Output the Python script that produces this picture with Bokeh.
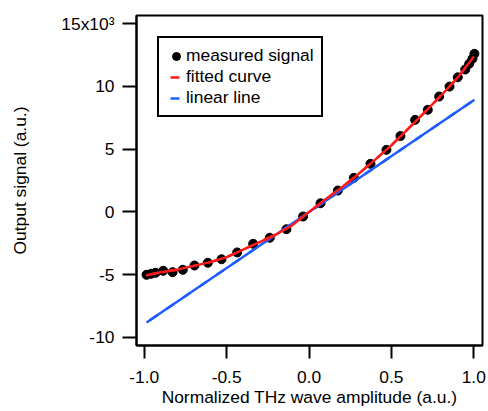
from bokeh.plotting import figure
from bokeh.models import FixedTicker, Legend, LegendItem
from bokeh.embed import file_html
from bokeh.resources import INLINE

# measured signal (x: normalized THz amplitude, y: output signal in units of 1e3)
x_meas = [-0.986, -0.958, -0.931, -0.885, -0.828, -0.766, -0.695, -0.614, -0.531, -0.436,
          -0.339, -0.238, -0.137, -0.036, 0.070, 0.175, 0.272, 0.373, 0.470, 0.555,
          0.644, 0.721, 0.790, 0.853, 0.903, 0.948, 0.972, 0.992, 1.004]
y_meas = [-5.01, -4.93, -4.85, -4.69, -4.80, -4.61, -4.27, -4.05, -3.77, -3.23,
          -2.54, -2.06, -1.38, -0.37, 0.69, 1.70, 2.71, 3.83, 4.94, 6.04,
          7.33, 8.13, 9.19, 9.98, 10.72, 11.34, 11.79, 12.19, 12.59]

# fitted curve
x_fit = [-0.99, -0.9, -0.8, -0.7, -0.6, -0.5, -0.4, -0.3, -0.2, -0.1, 0.0,
         0.1, 0.2, 0.3, 0.4, 0.5, 0.6, 0.7, 0.8, 0.9, 1.0]
y_fit = [-5.06, -4.80, -4.60, -4.30, -4.00, -3.60, -3.00, -2.40, -1.80, -1.05, 0.0,
         1.00, 1.96, 3.02, 4.14, 5.30, 6.60, 7.90, 9.25, 10.65, 12.35]

# linear line
x_lin = [-0.986, 1.004]
y_lin = [-8.81, 8.93]

x_ticks = [-1.0, -0.5, 0.0, 0.5, 1.0]
x_tick_labels = ["-1.0", "-0.5", "0.0", "0.5", "1.0"]
y_ticks = [-10, -5, 0, 5, 10, 15]
y_tick_labels = ["-10", "-5", "0", "5", "10", "15x10\u00b3"]

FONT = "Liberation Sans"
FS = "17.4px"

p = figure(width=488, height=411, x_range=(-1.047, 1.053), y_range=(-10.64, 15.64),
           output_backend="svg", toolbar_location=None,
           min_border_left=136, min_border_right=6, min_border_top=15, min_border_bottom=66)

p.xgrid.visible = False
p.ygrid.visible = False
p.outline_line_color = "black"
p.outline_line_alpha = 1.0
p.outline_line_width = 2
p.background_fill_color = "white"
p.border_fill_color = "white"

for ax in (p.xaxis[0], p.yaxis[0]):
    ax.axis_line_width = 2
    ax.axis_line_color = "black"
    ax.major_tick_line_width = 2
    ax.major_tick_line_color = "black"
    ax.major_tick_in = 0
    ax.minor_tick_line_color = None
    ax.major_label_text_font = FONT
    ax.major_label_text_font_size = FS
    ax.major_label_text_color = "black"
    ax.axis_label_text_font = FONT
    ax.axis_label_text_font_size = FS
    ax.axis_label_text_font_style = "normal"
    ax.axis_label_text_color = "black"

p.xaxis.ticker = FixedTicker(ticks=x_ticks)
p.xaxis.major_label_overrides = dict(zip(x_ticks, x_tick_labels))
p.xaxis.major_tick_out = 13
p.xaxis.major_label_standoff = 12
p.xaxis.axis_label = "Normalized THz wave amplitude (a.u.)"
p.xaxis.axis_label_standoff = 1

p.yaxis.ticker = FixedTicker(ticks=y_ticks)
p.yaxis.major_label_overrides = dict(zip(y_ticks, y_tick_labels))
p.yaxis.major_tick_out = 14
p.yaxis.major_label_standoff = 8
p.yaxis.axis_label = "Output signal (a.u.)"
p.yaxis.axis_label_standoff = 28

RED = "#ff1a1a"
BLUE = "#1f5cff"

meas = p.scatter(x_meas, y_meas, size=9, color="black")
lin_leg = p.line(x_lin, y_lin, line_color=BLUE, line_width=2.5, line_dash="0 4 9 7")
p.line(x_lin, y_lin, line_color=BLUE, line_width=2.5)
fit_leg = p.line(x_fit, y_fit, line_color=RED, line_width=2.5, line_dash="0 4 9 7")
p.line(x_fit, y_fit, line_color=RED, line_width=2.5)

legend = Legend(items=[
    LegendItem(label="measured signal", renderers=[meas]),
    LegendItem(label="fitted curve", renderers=[fit_leg]),
    LegendItem(label="linear line", renderers=[lin_leg]),
], location="top_left", margin=21, padding=7, spacing=0,
    glyph_width=20, glyph_height=20, label_height=20, label_standoff=-2,
    label_text_font=FONT, label_text_font_size=FS, label_text_color="black",
    border_line_color="black", border_line_alpha=1.0, border_line_width=2,
    background_fill_color="white", background_fill_alpha=1.0)
p.add_layout(legend)

open("out.html", "w").write(file_html(p, INLINE))
